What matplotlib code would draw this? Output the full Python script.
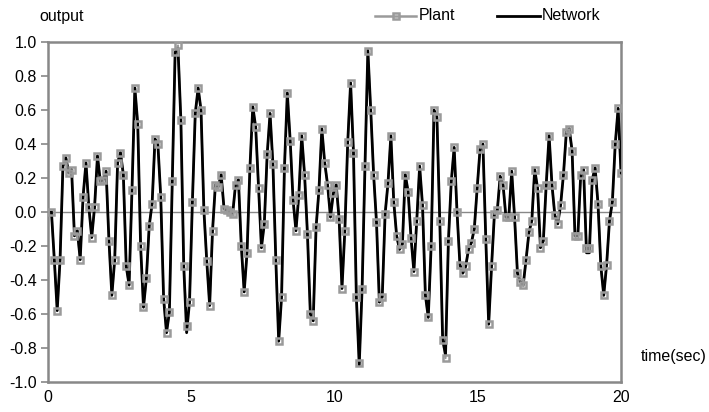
import numpy as np
import matplotlib
matplotlib.use("Agg")
import matplotlib.pyplot as plt
from matplotlib.lines import Line2D

plt.rcParams['font.family'] = ['Liberation Sans', 'DejaVu Sans']

plant = [
    0.00, -0.28, -0.58, -0.28, 0.27, 0.32, 0.23, 0.25, -0.14, -0.11,
    -0.28, 0.09, 0.29, 0.03, -0.15, 0.03, 0.33, 0.18, 0.19, 0.24,
    -0.17, -0.49, -0.28, 0.29, 0.35, 0.22, -0.32, -0.43, 0.13, 0.73,
    0.52, -0.20, -0.56, -0.39, -0.08, 0.05, 0.43, 0.40, 0.09, -0.51,
    -0.71, -0.59, 0.18, 0.94, 0.98, 0.54, -0.32, -0.67, -0.53, 0.06,
    0.58, 0.73, 0.60, 0.01, -0.29, -0.55, -0.11, 0.16, 0.15, 0.22,
    0.02, 0.01, 0.00, -0.01, 0.16, 0.19, -0.20, -0.47, -0.24, 0.26,
    0.62, 0.50, 0.14, -0.21, -0.07, 0.34, 0.58, 0.28, -0.28, -0.76,
    -0.50, 0.26, 0.70, 0.42, 0.07, -0.11, 0.10, 0.45, 0.22, -0.13,
    -0.60, -0.64, -0.09, 0.13, 0.49, 0.29, 0.16, -0.03, 0.11, 0.16,
    -0.04, -0.45, -0.11, 0.41, 0.76, 0.35, -0.50, -0.89, -0.45, 0.27,
    0.95, 0.60, 0.22, -0.06, -0.53, -0.50, -0.01, 0.17, 0.45, 0.06,
    -0.14, -0.22, -0.19, 0.22, 0.12, -0.15, -0.35, -0.05, 0.27, 0.04,
    -0.49, -0.62, -0.20, 0.60, 0.56, -0.05, -0.75, -0.86, -0.17, 0.18,
    0.38, 0.00, -0.31, -0.36, -0.32, -0.22, -0.18, -0.10, 0.14, 0.37,
    0.40, -0.16, -0.66, -0.32, -0.01, 0.01, 0.21, 0.16, -0.03, -0.03,
    0.24, -0.03, -0.36, -0.41, -0.43, -0.28, -0.12, -0.05, 0.25, 0.14,
    -0.21, -0.17, 0.16, 0.45, 0.16, -0.02, -0.07, 0.04, 0.22, 0.47,
    0.49, 0.36, -0.14, -0.14, 0.22, 0.25, -0.21, -0.21, 0.19, 0.26,
    0.05, -0.32, -0.49, -0.31, -0.05, 0.06, 0.40, 0.61, 0.23,
]

# Network output (tracks the plant closely)
network = [
    0.00, -0.28, -0.58, -0.28, 0.27, 0.32, 0.23, 0.25, -0.14, -0.11,
    -0.28, 0.09, 0.29, 0.03, -0.15, 0.03, 0.33, 0.18, 0.19, 0.24,
    -0.17, -0.49, -0.28, 0.29, 0.35, 0.22, -0.32, -0.43, 0.13, 0.73,
    0.52, -0.20, -0.56, -0.39, -0.08, 0.05, 0.43, 0.40, 0.09, -0.51,
    -0.71, -0.59, 0.18, 0.94, 0.96, 0.54, -0.32, -0.71, -0.53, 0.06,
    0.58, 0.73, 0.60, 0.01, -0.29, -0.55, -0.11, 0.16, 0.15, 0.22,
    0.02, 0.01, 0.00, -0.01, 0.16, 0.19, -0.20, -0.47, -0.24, 0.26,
    0.62, 0.50, 0.14, -0.21, -0.07, 0.34, 0.58, 0.28, -0.28, -0.76,
    -0.50, 0.26, 0.70, 0.42, 0.07, -0.11, 0.10, 0.45, 0.22, -0.13,
    -0.60, -0.64, -0.09, 0.13, 0.49, 0.29, 0.16, -0.03, 0.11, 0.16,
    -0.04, -0.45, -0.11, 0.41, 0.76, 0.35, -0.50, -0.90, -0.45, 0.27,
    0.95, 0.60, 0.22, -0.06, -0.53, -0.50, -0.01, 0.17, 0.45, 0.06,
    -0.14, -0.22, -0.19, 0.22, 0.12, -0.15, -0.35, -0.05, 0.27, 0.04,
    -0.49, -0.62, -0.20, 0.60, 0.56, -0.05, -0.75, -0.84, -0.17, 0.18,
    0.38, 0.00, -0.31, -0.36, -0.32, -0.22, -0.18, -0.10, 0.14, 0.37,
    0.40, -0.16, -0.66, -0.32, -0.01, 0.01, 0.21, 0.16, -0.03, -0.03,
    0.24, -0.03, -0.36, -0.41, -0.43, -0.28, -0.12, -0.05, 0.25, 0.14,
    -0.21, -0.17, 0.16, 0.45, 0.16, -0.02, -0.07, 0.04, 0.22, 0.47,
    0.49, 0.36, -0.14, -0.14, 0.22, 0.25, -0.24, -0.24, 0.19, 0.26,
    0.05, -0.32, -0.49, -0.31, -0.05, 0.06, 0.40, 0.61, 0.23,
]

time = np.linspace(0.12, 20.0, len(plant))

x_ticks = [0, 5, 10, 15, 20]
y_ticks = [-1.0, -0.8, -0.6, -0.4, -0.2, 0.0, 0.2, 0.4, 0.6, 0.8, 1.0]

GRAY = '#9a9a9a'
FRAME = '#888888'

fig = plt.figure(figsize=(7.09, 4.12), dpi=100)
ax = fig.add_axes([48 / 709, 1 - 382 / 412, (621 - 48) / 709, (382 - 42) / 412])

ax.axhline(0, color=FRAME, lw=1.0, zorder=1)
ax.plot(time, plant, color=GRAY, lw=1.5, zorder=2)
ax.plot(time, network, color='black', lw=2.0, zorder=3)
ax.plot(time, plant, linestyle='none', marker='s', markersize=4.2,
        markerfacecolor='none', markeredgecolor=GRAY, markeredgewidth=1.8, zorder=4)

ax.set_xlim(0, 20)
ax.set_ylim(-1.0, 1.0)
ax.set_yticks(y_ticks)
ax.set_yticklabels([f'{v:.1f}' for v in y_ticks])
ax.set_xticks(x_ticks)
ax.set_xticklabels([str(v) for v in x_ticks])

for s in ax.spines.values():
    s.set_color(FRAME)
    s.set_linewidth(1.8)

ax.tick_params(axis='y', direction='out', length=5, width=1.2, color=FRAME,
               labelsize=11.5, pad=3, labelcolor='black')
ax.tick_params(axis='x', length=0, labelsize=11.5, pad=6, labelcolor='black')

fig.text(62 / 709, 1 - 16 / 412, 'output', fontsize=11.5, ha='center', va='center')
fig.text(674 / 709, 1 - 356 / 412, 'time(sec)', fontsize=11.5, ha='center', va='center')

# manual legend
ly = 1 - 16 / 412
fig.add_artist(Line2D([375 / 709, 416 / 709], [ly, ly], color=GRAY, lw=1.8,
                      transform=fig.transFigure))
fig.add_artist(Line2D([395.5 / 709], [ly], linestyle='none', marker='s', markersize=4.2,
                      markerfacecolor='none', markeredgecolor=GRAY, markeredgewidth=1.8,
                      transform=fig.transFigure))
fig.text(419 / 709, ly, 'Plant', fontsize=11.5, ha='left', va='center')
fig.add_artist(Line2D([497 / 709, 540 / 709], [ly, ly], color='black', lw=2.0,
                      transform=fig.transFigure))
fig.text(542 / 709, ly, 'Network', fontsize=11.5, ha='left', va='center')

fig.savefig('out.png', dpi=100)
